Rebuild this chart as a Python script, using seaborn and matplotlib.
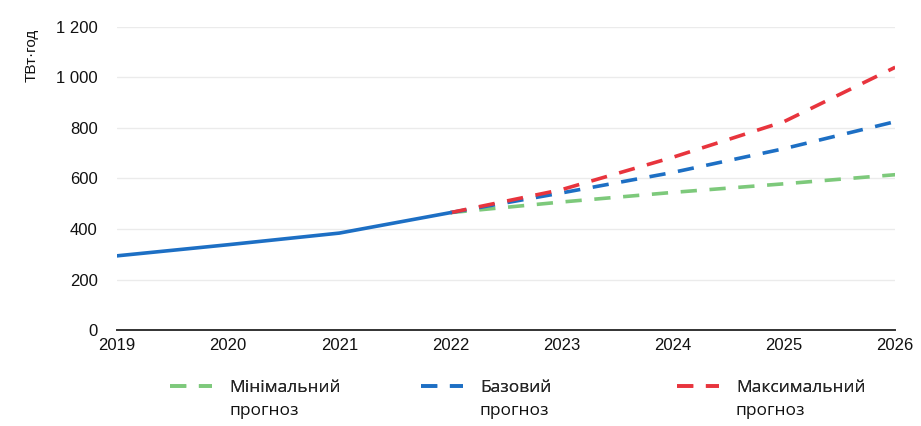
import pandas as pd
import matplotlib.pyplot as plt
import seaborn as sns
from matplotlib.ticker import FuncFormatter
from matplotlib.lines import Line2D

# historical data (solid line)
hist_years = [2019, 2020, 2021, 2022]
hist_values = [294, 338, 384, 465]

# forecasts (dashed lines), all start from 2022
fc_years = [2022, 2023, 2024, 2025, 2026]
fc_min = [465, 507, 545, 579, 615]
fc_base = [465, 543, 624, 718, 825]
fc_max = [465, 556, 684, 825, 1040]

labels = ['Мінімальний', 'Базовий', 'Максимальний']
label_second = 'прогноз'
colors = ['#7dc97b', '#1d6fc4', '#e8343d']

hist = pd.DataFrame({'year': hist_years, 'value': hist_values})
fc = pd.concat([
    pd.DataFrame({'year': fc_years, 'value': vals, 'scenario': lab})
    for vals, lab in zip([fc_min, fc_base, fc_max], labels)
])

sns.set_style('white')
plt.rcParams['font.family'] = ['Liberation Sans', 'DejaVu Sans']

fig = plt.figure(figsize=(9.21, 4.26), dpi=100)
ax = fig.add_axes([0.127, 0.225, 0.845, 0.712])

# gridlines
for v in range(200, 1201, 200):
    ax.axhline(v, color='#ebebeb', lw=1, zorder=0)

sns.lineplot(data=fc, x='year', y='value', hue='scenario', palette=colors,
             hue_order=labels, lw=2.6, ax=ax, legend=False, zorder=3)
for line in ax.get_lines()[-3:]:
    line.set_dashes((4.5, 3.5))

sns.lineplot(data=hist, x='year', y='value', color=colors[1], lw=2.6, ax=ax, zorder=4)

ax.set_xlim(2019, 2026)
ax.set_ylim(0, 1200)
ax.set_xticks(range(2019, 2027))
ax.set_yticks(range(0, 1201, 200))
ax.yaxis.set_major_formatter(FuncFormatter(lambda v, p: f'{int(v):,}'.replace(',', ' ')))
ax.set_xlabel('')
ax.set_ylabel('')

for s in ['top', 'right', 'left']:
    ax.spines[s].set_visible(False)
ax.spines['bottom'].set_color('#333333')
ax.spines['bottom'].set_linewidth(1.4)
ax.tick_params(axis='x', direction='out', length=4, width=1.2, color='#333333',
               labelsize=12, pad=2, labelcolor='#111111')
ax.tick_params(axis='y', length=0, labelsize=12, pad=14, labelcolor='#111111')

fig.text(0.034, 1 - 55 / 426, 'ТВт·год', rotation=90, ha='center', va='center',
         fontsize=11, color='#111111')

# legend: three separate entries below the chart, second line added as text
legend_font = {'family': ['Open Sans', 'DejaVu Sans'], 'size': 12.5}
legend_x = [0.185, 0.457, 0.735]
legends = []
for lab, col, x in zip(labels, colors, legend_x):
    h = Line2D([], [], color=col, lw=2.6, dashes=(4.5, 3.5))
    leg = fig.legend([h], [lab], loc='upper left', bbox_to_anchor=(x, 0.108),
                     frameon=False, handlelength=2.4, handletextpad=1.0,
                     borderaxespad=0, borderpad=0, prop=legend_font)
    fig.add_artist(leg)
    legends.append(leg)

fig.canvas.draw()
inv = fig.transFigure.inverted()
for leg in legends:
    bb = leg.get_texts()[0].get_window_extent()
    x0, y0 = inv.transform((bb.x0, bb.y0))
    fig.text(x0, y0 - 0.016, label_second, ha='left', va='top',
             fontfamily=legend_font['family'], fontsize=legend_font['size'],
             color='#111111')

fig.savefig('out.png', dpi=100)
